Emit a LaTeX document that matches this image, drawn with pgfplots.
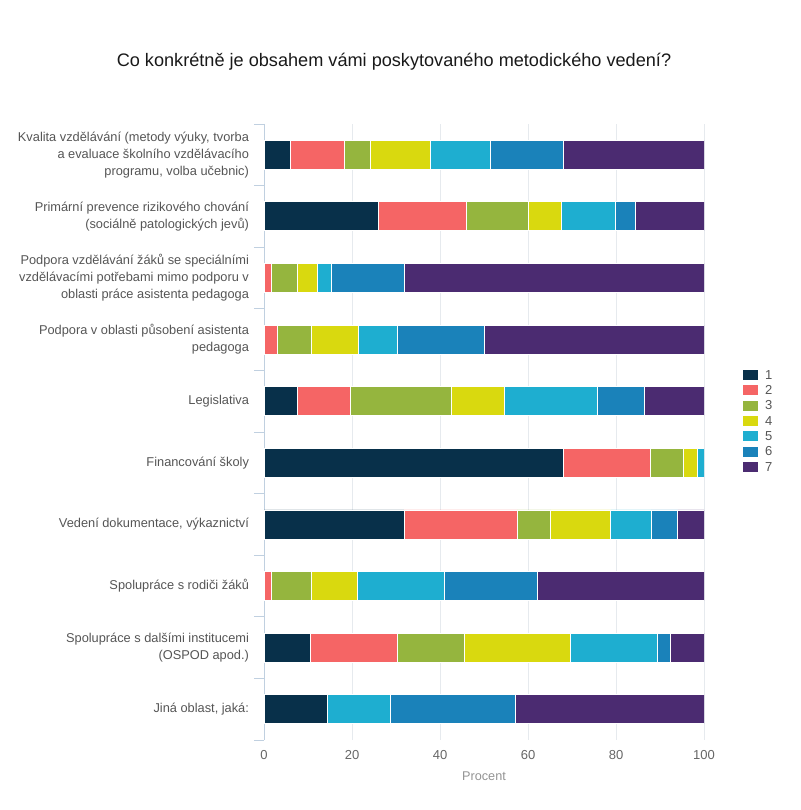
\documentclass[border=0pt]{standalone}
\usepackage{fontspec}
\setmainfont{Liberation Sans}
\usepackage{pgfplots}
\pgfplotsset{compat=1.18}
\usepackage{pgfplotstable}
\definecolor{c1}{HTML}{08304A}
\definecolor{c2}{HTML}{F56565}
\definecolor{c3}{HTML}{95B53E}
\definecolor{c4}{HTML}{D9D90F}
\definecolor{c5}{HTML}{1EAED0}
\definecolor{c6}{HTML}{1A82BA}
\definecolor{c7}{HTML}{4B2B71}
\definecolor{labelgray}{HTML}{555555}
\definecolor{tickgray}{HTML}{666666}
\definecolor{axisgray}{HTML}{C0D0E0}
\definecolor{gridgray}{HTML}{E6EAEE}
\pgfplotstableread{
cat c1 c2 c3 c4 c5 c6 c7
0 5.9 12.3 6.0 13.6 13.6 16.7 31.9
1 26.0 20.1 14.0 7.6 12.2 4.6 15.5
2 0 1.6 6.1 4.5 3.1 16.6 68.1
3 0 3.0 7.7 10.7 8.9 19.9 49.8
4 7.6 12.1 22.8 12.1 21.2 10.6 13.6
5 68.0 19.9 7.4 3.1 1.6 0 0
6 31.8 25.7 7.7 13.6 9.2 6.0 6.0
7 0 1.6 9.1 10.6 19.6 21.2 37.9
8 10.6 19.7 15.2 24.2 19.7 2.9 7.7
9 14.3 0 0 0 14.4 28.4 42.9
}\data
\begin{document}
\begin{tikzpicture}
\useasboundingbox (0pt,0pt) rectangle (600pt,607.5pt);
\node[font=\fontsize{13.6}{16}\selectfont, text=black!90] at (295.5pt,561pt) {Co konkrétně je obsahem vámi poskytovaného metodického vedení?};
\begin{axis}[
  at={(198pt,52.5pt)}, anchor=south west,
  scale only axis, width=330pt, height=462pt,
  xbar stacked, bar width=21.75pt,
  xmin=0, xmax=100, ymin=-0.5, ymax=9.5, y dir=reverse,
  axis y line*=left, axis x line*=bottom,
  x axis line style={draw=none},
  y axis line style={draw=axisgray, line width=0.6pt},
  xtick={0,20,...,100},
  major x tick style={draw=none},
  xmajorgrids, major grid style={draw=gridgray, line width=0.6pt},
  ytick={0,...,9},
  major y tick style={draw=none},
  minor ytick={-0.5,0.5,...,9.5},
  minor y tick style={draw=axisgray, line width=0.6pt},
  minor tick length=7.5pt, tick align=outside,
  /pgf/number format/assume math mode=true,
  xticklabel style={font=\fontsize{9.75}{11}\selectfont, text=tickgray},
  yticklabel style={font=\fontsize{9.6}{12.75}\selectfont, text=labelgray, align=right, xshift=-3.5pt},
  yticklabels={
    {Kvalita vzdělávání (metody výuky, tvorba\\a evaluace školního vzdělávacího\\programu, volba učebnic)},
    {Primární prevence rizikového chování\\(sociálně patologických jevů)},
    {Podpora vzdělávání žáků se speciálními\\vzdělávacími potřebami mimo podporu v\\oblasti práce asistenta pedagoga},
    {Podpora v oblasti působení asistenta\\pedagoga},
    {Legislativa},
    {Financování školy},
    {Vedení dokumentace, výkaznictví},
    {Spolupráce s rodiči žáků},
    {Spolupráce s dalšími institucemi\\(OSPOD apod.)},
    {Jiná oblast, jaká:}
  },
  xlabel={Procent},
  xlabel style={font=\fontsize{9.5}{11}\selectfont, text=gray!85, yshift=-2.5pt},
  legend style={at={(1.08,0.607)}, anchor=north west, draw=none, fill=none,
    font=\fontsize{9.75}{10}\selectfont, text=labelgray, row sep=2.5pt,
    nodes={inner sep=0.5pt, text height=7pt, text depth=1pt},
    /tikz/every odd column/.append style={column sep=4.5pt}},
  legend cell align=left,
  legend image code/.code={\path[#1, draw=none] (0pt,-3.75pt) rectangle (11.25pt,3.75pt);},
  every axis plot/.append style={draw=white, line width=0.6pt},
]
\addplot[fill=c1] table[x=c1, y=cat] {\data};
\addplot[fill=c2] table[x=c2, y=cat] {\data};
\addplot[fill=c3] table[x=c3, y=cat] {\data};
\addplot[fill=c4] table[x=c4, y=cat] {\data};
\addplot[fill=c5] table[x=c5, y=cat] {\data};
\addplot[fill=c6] table[x=c6, y=cat] {\data};
\addplot[fill=c7] table[x=c7, y=cat] {\data};
\legend{1,2,3,4,5,6,7}
\end{axis}
\end{tikzpicture}
\end{document}
